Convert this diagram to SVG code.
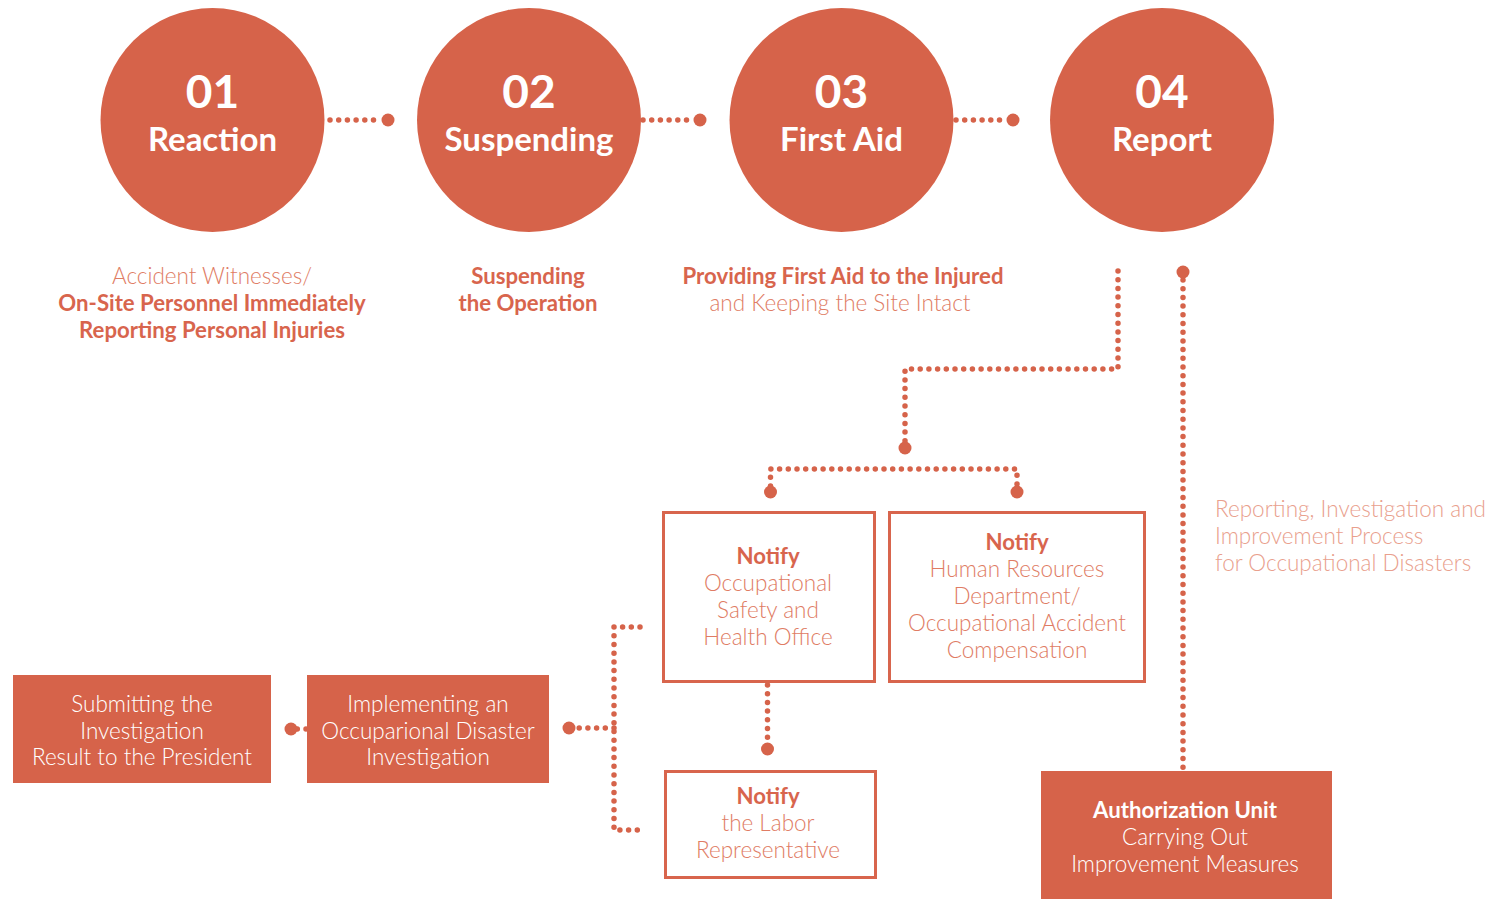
<svg xmlns="http://www.w3.org/2000/svg" width="1494" height="899" viewBox="0 0 1494 899">
  <style>
    .step { fill: #D6634A; }
    .num { font-family: Lato, "Liberation Sans", sans-serif; font-weight: 700; font-size: 46px; fill: #FFFFFF; text-anchor: middle; }
    .title { font-family: Lato, "Liberation Sans", sans-serif; font-weight: 700; font-size: 33px; fill: #FFFFFF; text-anchor: middle; }
    .cap-b { font-family: Lato, "Liberation Sans", sans-serif; font-weight: 700; font-size: 22.2px; fill: #D8654D; text-anchor: middle; }
    .cap-l { font-family: Lato, "Liberation Sans", sans-serif; font-weight: 300; font-size: 22.5px; fill: #E07C64; text-anchor: middle; }
    .note { font-family: Lato, "Liberation Sans", sans-serif; font-weight: 300; font-size: 22.5px; fill: #E9A08D; }
    .outline { fill: #FFFFFF; stroke: #D8654D; stroke-width: 3; }
    .solid { fill: #D6634A; }
    .w-b { font-family: Lato, "Liberation Sans", sans-serif; font-weight: 700; font-size: 22.2px; fill: #FFFFFF; text-anchor: middle; }
    .w-l { font-family: Lato, "Liberation Sans", sans-serif; font-weight: 300; font-size: 22.5px; fill: #FFFFFF; text-anchor: middle; }
    .dots { fill: none; stroke: #D6634A; stroke-width: 5.5; stroke-linecap: round; stroke-linejoin: round; stroke-dasharray: 0 8.7; }
    .knob { fill: #D6634A; }
  </style>

  <!-- dotted connectors -->
  <g id="connectors">
    <path class="dots" d="M330 120 H382"/>
    <circle class="knob" cx="388" cy="120" r="6.5"/>
    <path class="dots" d="M643 120 H694"/>
    <circle class="knob" cx="700" cy="120" r="6.5"/>
    <path class="dots" d="M956 120 H1007"/>
    <circle class="knob" cx="1013" cy="120" r="6.5"/>

    <path class="dots" d="M1118 271 V369 H905 V442"/>
    <circle class="knob" cx="905" cy="448" r="6.5"/>

    <path class="dots" d="M1183 280 V770"/>
    <circle class="knob" cx="1183" cy="272" r="6.5"/>

    <path class="dots" d="M770.5 486 V469 H1017 V486"/>
    <circle class="knob" cx="770.5" cy="492" r="6.5"/>
    <circle class="knob" cx="1017" cy="492" r="6.5"/>

    <path class="dots" d="M767.5 685 V743"/>
    <circle class="knob" cx="767.5" cy="749" r="6.5"/>

    <path class="dots" d="M640 627 H614 V830 H645"/>
    <path class="dots" d="M614 728 H576"/>
    <circle class="knob" cx="569" cy="728" r="6.5"/>

    <path class="dots" d="M306 729 H297"/>
    <circle class="knob" cx="291" cy="729" r="6.5"/>
  </g>

  <!-- numbered steps -->
  <g id="step-01">
    <circle class="step" cx="212.5" cy="120" r="112"/>
    <text class="num" x="212.5" y="108">01</text>
    <text class="title" x="212.5" y="151">Reaction</text>
    <text class="cap-l" x="212" y="284">Accident Witnesses/</text>
    <text class="cap-b" x="212" y="311">On-Site Personnel Immediately</text>
    <text class="cap-b" x="212" y="338">Reporting Personal Injuries</text>
  </g>
  <g id="step-02">
    <circle class="step" cx="529" cy="120" r="112"/>
    <text class="num" x="529" y="108">02</text>
    <text class="title" x="529" y="151">Suspending</text>
    <text class="cap-b" x="528" y="284">Suspending</text>
    <text class="cap-b" x="528" y="311">the Operation</text>
  </g>
  <g id="step-03">
    <circle class="step" cx="841.5" cy="120" r="112"/>
    <text class="num" x="841.5" y="108">03</text>
    <text class="title" x="841.5" y="151">First Aid</text>
    <text class="cap-b" x="843" y="284">Providing First Aid to the Injured</text>
    <text class="cap-l" x="840" y="311">and Keeping the Site Intact</text>
  </g>
  <g id="step-04">
    <circle class="step" cx="1162" cy="120" r="112"/>
    <text class="num" x="1162" y="108">04</text>
    <text class="title" x="1162" y="151">Report</text>
  </g>

  <!-- side note -->
  <g id="process-note">
    <text class="note" x="1215" y="517">Reporting, Investigation and</text>
    <text class="note" x="1215" y="544">Improvement Process</text>
    <text class="note" x="1215" y="571">for Occupational Disasters</text>
  </g>

  <!-- notification boxes -->
  <g id="notify-osh">
    <rect class="outline" x="663.5" y="512.5" width="211" height="169"/>
    <text class="cap-b" x="768" y="564">Notify</text>
    <text class="cap-l" x="768" y="591">Occupational</text>
    <text class="cap-l" x="768" y="618">Safety and</text>
    <text class="cap-l" x="768" y="645">Health Office</text>
  </g>
  <g id="notify-hr">
    <rect class="outline" x="889.5" y="512.5" width="255" height="169"/>
    <text class="cap-b" x="1017" y="550">Notify</text>
    <text class="cap-l" x="1017" y="577">Human Resources</text>
    <text class="cap-l" x="1017" y="604">Department/</text>
    <text class="cap-l" x="1017" y="631">Occupational Accident</text>
    <text class="cap-l" x="1017" y="658">Compensation</text>
  </g>
  <g id="notify-labor">
    <rect class="outline" x="665.5" y="771.5" width="210" height="106"/>
    <text class="cap-b" x="768" y="804">Notify</text>
    <text class="cap-l" x="768" y="831">the Labor</text>
    <text class="cap-l" x="768" y="858">Representative</text>
  </g>

  <!-- investigation boxes -->
  <g id="investigation">
    <rect class="solid" x="307" y="675" width="242" height="108"/>
    <text class="w-l" x="428" y="712">Implementing an</text>
    <text class="w-l" x="428" y="739">Occuparional Disaster</text>
    <text class="w-l" x="428" y="765">Investigation</text>
  </g>
  <g id="submit-result">
    <rect class="solid" x="13" y="675" width="258" height="108"/>
    <text class="w-l" x="142" y="712">Submitting the</text>
    <text class="w-l" x="142" y="739">Investigation</text>
    <text class="w-l" x="142" y="765">Result to the President</text>
  </g>
  <g id="authorization-unit">
    <rect class="solid" x="1041" y="771" width="291" height="128"/>
    <text class="w-b" x="1185" y="818">Authorization Unit</text>
    <text class="w-l" x="1185" y="845">Carrying Out</text>
    <text class="w-l" x="1185" y="872">Improvement Measures</text>
  </g>
</svg>
